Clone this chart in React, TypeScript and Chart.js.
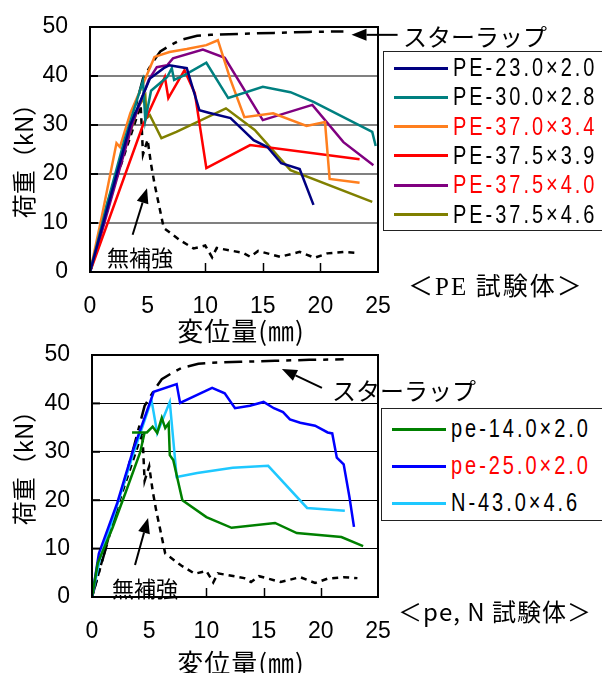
import React, { useEffect, useRef } from "react";
import { Chart, registerables } from "chart.js";
Chart.register(...registerables);

// ---------- data ----------
const xTicks = [0, 5, 10, 15, 20, 25];
const yTicks = [0, 10, 20, 30, 40, 50];

const stirrupX = [0, 1.2, 2.5, 3.6, 4.6, 5.5, 6.1, 7.0, 7.8, 9.3, 10.5, 13, 16, 19, 22];
const stirrupY = [0, 10, 21, 30.5, 39.5, 43, 45, 46.3, 47.3, 48.2, 48.4, 48.6, 48.8, 49, 49.1];

const plainX = [0, 2.0, 4.4, 4.6, 5.0, 5.3, 5.6, 6.4, 7.8, 9.0, 10.0, 10.6, 11.0, 13.3, 13.9, 14.6, 16.5, 18.2, 19.5, 20.6, 22.0, 23.2];
const plainY = [0, 17, 34, 24, 27, 22, 18, 9, 6.5, 4.8, 5.4, 3.0, 4.9, 3.9, 3.1, 4.3, 3.1, 4.1, 2.9, 3.8, 4.1, 3.9];

const pe23X = [0, 1.5, 3.5, 5.2, 6.4, 6.9, 8.4, 9.5, 10.3, 12.2, 13.0, 14.2, 15.4, 16.6, 18.2, 19.4];
const pe23Y = [0, 13, 30, 39.5, 41.6, 42.2, 41.6, 33, 32.5, 31.4, 29.6, 26.9, 25.5, 22.2, 21, 13.7];

const pe30X = [0, 1.5, 3.0, 4.6, 4.8, 5.3, 6.7, 7.1, 7.3, 8.2, 10.1, 12.0, 15.0, 17.4, 19.4, 24.5, 24.8];
const pe30Y = [0, 14, 27, 39, 31, 37, 39.8, 41.6, 39.2, 40.2, 42.7, 35.5, 37.8, 36.7, 34.7, 28.6, 25.7];

const pe370X = [0, 1.0, 2.3, 2.6, 3.5, 4.9, 5.6, 6.9, 8.4, 10.1, 11.1, 12.2, 13.4, 15.9, 18.8, 20.4, 20.8, 23.4];
const pe370Y = [0, 11, 26.3, 25.5, 32.4, 40, 43.9, 44.9, 45.5, 46.3, 47.3, 39.2, 31.6, 32.4, 29.8, 30.6, 19, 18.2];

const pe39X = [0, 4.6, 6.5, 6.8, 8.2, 9.1, 10.1, 13.9, 23.4];
const pe39Y = [0, 30, 39.8, 35.5, 41.2, 36.5, 21.2, 25.9, 23];

const pe40X = [0, 1.0, 3.7, 5.1, 5.8, 6.7, 7.2, 9.8, 11.7, 15.0, 19.3, 22.0, 24.6];
const pe40Y = [0, 8, 30.4, 39.2, 41.8, 42.2, 43.6, 45.4, 43.7, 31, 34.1, 26.5, 21.8];

const pe46X = [0, 1.5, 4.2, 4.8, 4.9, 5.2, 6.2, 7.5, 11.8, 14.3, 17.4, 24.5];
const pe46Y = [0, 14, 33.7, 36, 31.4, 32, 27.3, 28.6, 33.4, 29, 20.8, 14.3];

const pe14X = [0, 0.5, 1.8, 3.0, 4.2, 4.6, 3.5, 4.8, 5.3, 5.7, 6.1, 6.4, 6.7, 6.8, 7.1, 7.9, 10.0, 12.2, 16.0, 17.9, 21.8, 23.7];
const pe14Y = [0, 7, 14.3, 22, 29.8, 34, 34, 34, 35.2, 33.9, 37, 34.9, 35.9, 29.3, 28.3, 20, 16.5, 14.3, 15.3, 13.2, 12.4, 10.5];

const pe25X = [0, 0.6, 2.2, 3.6, 5.4, 7.4, 7.7, 10.5, 11.6, 12.5, 13.8, 15.0, 15.9, 16.7, 17.3, 18.2, 19.5, 20.6, 21.0, 21.4, 22.0, 22.5, 22.9];
const pe25Y = [0, 9, 19.4, 30.4, 42.4, 44, 40.1, 43.2, 42.1, 39, 39.5, 40.3, 39, 38.2, 36.7, 36, 35.4, 34, 33.8, 28.8, 27.4, 20.7, 14.5];

const n43X = [0, 0.7, 2.2, 3.6, 5.2, 5.7, 6.8, 7.4, 9.2, 12.3, 15.4, 18.8, 22.1];
const n43Y = [0, 8, 19, 29.5, 40.7, 33.9, 40.3, 24.8, 25.6, 26.7, 27.1, 18.4, 17.8];

const topLabels = ["PE-23.0×2.0", "PE-30.0×2.8", "PE-37.0×3.4", "PE-37.5×3.9", "PE-37.5×4.0", "PE-37.5×4.6"];
const topColors = ["#000080", "#008080", "#ff7f1e", "#ff0000", "#800080", "#808000"];
const topTextRed = [false, false, true, false, true, false];
const topXs = [pe23X, pe30X, pe370X, pe39X, pe40X, pe46X];
const topYs = [pe23Y, pe30Y, pe370Y, pe39Y, pe40Y, pe46Y];

const botLabels = ["pe-14.0×2.0", "pe-25.0×2.0", "N-43.0×4.6"];
const botColors = ["#008000", "#0000ff", "#1ec8ff"];
const botTextRed = [false, true, false];
const botXs = [pe14X, pe25X, n43X];
const botYs = [pe14Y, pe25Y, n43Y];

// annotation arrows in data units: [x1, y1, x2(tip), y2(tip)]
const topArrows = [[26.7, 48.4, 22.7, 48.4], [3.7, 7.6, 4.95, 17.1]];
const botArrows = [[20.1, 43.2, 16.6, 47.1], [3.76, 6.6, 4.9, 16.3]];

const pts = (xs: number[], ys: number[]) => xs.map((x, i) => ({ x, y: ys[i] }));

const JP = '"Noto Sans CJK JP", sans-serif';
const NUM = '"Liberation Sans", Arial, sans-serif';

type Cfg = {
  width: number; height: number; left: number; right: number; top: number; bottom: number;
  gridColor: string; gridWidth: number; xs: number[][]; ys: number[][]; colors: string[]; arrows: number[][];
};

function makePlugin(arrows: number[][]) {
  return {
    id: "frameTicks",
    afterDraw(chart: any) {
      const { ctx, chartArea: a, scales } = chart;
      const sx = scales.x, sy = scales.y;
      ctx.save();
      ctx.strokeStyle = "#000";
      ctx.lineWidth = 1.5;
      for (const v of xTicks) {
        if (v <= sx.min || v >= sx.max) continue;
        const px = Math.round(sx.getPixelForValue(v)) + 0.5;
        ctx.beginPath(); ctx.moveTo(px, a.bottom); ctx.lineTo(px, a.bottom - 9); ctx.stroke();
      }
      ctx.lineWidth = 2;
      for (const v of yTicks) {
        if (v <= sy.min || v >= sy.max) continue;
        const py = sy.getPixelForValue(v);
        ctx.beginPath(); ctx.moveTo(a.left, py); ctx.lineTo(a.left + 8, py); ctx.stroke();
      }
      ctx.lineWidth = 2;
      ctx.strokeRect(a.left, a.top, a.right - a.left, a.bottom - a.top);
      for (const [x1, y1, x2, y2] of arrows) {
        const p1x = sx.getPixelForValue(x1), p1y = sy.getPixelForValue(y1);
        const p2x = sx.getPixelForValue(x2), p2y = sy.getPixelForValue(y2);
        const ang = Math.atan2(p2y - p1y, p2x - p1x);
        const hl = 15, hw = 6;
        const bx = p2x - hl * Math.cos(ang), by = p2y - hl * Math.sin(ang);
        ctx.beginPath(); ctx.moveTo(p1x, p1y); ctx.lineTo(bx, by); ctx.stroke();
        ctx.beginPath();
        ctx.moveTo(p2x, p2y);
        ctx.lineTo(bx + hw * Math.sin(ang), by - hw * Math.cos(ang));
        ctx.lineTo(bx - hw * Math.sin(ang), by + hw * Math.cos(ang));
        ctx.closePath();
        ctx.fillStyle = "#000";
        ctx.fill();
      }
      ctx.restore();
    },
  };
}

function Plot({ cfg }: { cfg: Cfg }) {
  const ref = useRef<HTMLCanvasElement>(null);
  useEffect(() => {
    if (!ref.current) return;
    const datasets: any[] = [];
    cfg.xs.forEach((xs, i) => {
      datasets.push({ data: pts(xs, cfg.ys[i]), borderColor: cfg.colors[i], borderWidth: 2.5, showLine: true, pointRadius: 0, tension: 0 });
    });
    datasets.push({ data: pts(plainX, plainY), borderColor: "#000", borderWidth: 2.5, borderDash: [6, 5], showLine: true, pointRadius: 0 });
    datasets.push({ data: pts(stirrupX, stirrupY), borderColor: "#000", borderWidth: 2.5, borderDash: [18, 7, 5, 7], showLine: true, pointRadius: 0 });
    const chart: any = new Chart(ref.current, {
      type: "scatter",
      data: { datasets },
      options: {
        responsive: false,
        animation: false,
        devicePixelRatio: 1,
        layout: { autoPadding: false, padding: { left: 0, right: cfg.width - cfg.right, top: cfg.top, bottom: 0 } },
        plugins: { legend: { display: false }, tooltip: { enabled: false } },
        scales: {
          x: {
            type: "linear", min: 0, max: 25,
            afterFit: (s: any) => { s.height = cfg.height - cfg.bottom; s.paddingLeft = 0; s.paddingRight = 0; },
            afterBuildTicks: (s: any) => { s.ticks = xTicks.map((v) => ({ value: v })); },
            grid: { display: false, drawTicks: false },
            border: { display: false },
            ticks: { padding: 21, font: { family: NUM, size: 23 }, color: "#000", maxRotation: 0 },
          },
          y: {
            type: "linear", min: 0, max: 50,
            afterFit: (s: any) => { s.width = cfg.left; s.paddingTop = 0; s.paddingBottom = 0; },
            afterBuildTicks: (s: any) => { s.ticks = yTicks.map((v) => ({ value: v })); },
            grid: { color: cfg.gridColor, lineWidth: cfg.gridWidth, drawTicks: false },
            border: { display: false },
            ticks: { padding: 22, font: { family: NUM, size: 23 }, color: "#000" },
          },
        },
      },
      plugins: [makePlugin(cfg.arrows)],
    } as any);
    return () => chart.destroy();
  }, []);
  return <canvas ref={ref} width={cfg.width} height={cfg.height} style={{ display: "block" }} />;
}

const abs = (s: any): any => ({ position: "absolute", whiteSpace: "nowrap", lineHeight: 1, ...s });

function Legend({ left, top, width, height, rowTop, rowGap, labels, colors, red }: any) {
  return (
    <div style={abs({ left, top, width, height, border: "1px solid #222", background: "#fff", boxSizing: "border-box" })}>
      {labels.map((l: string, i: number) => (
        <div key={l} style={abs({ left: 0, top: rowTop + i * rowGap, height: 0 })}>
          <div style={abs({ left: 10, top: -1.5, width: 54, height: 3, background: colors[i] })} />
          <div style={abs({ left: 69, top: -13, fontFamily: NUM, fontSize: 25, letterSpacing: 3.7, transform: "scaleX(0.8)", transformOrigin: "0 0", color: red[i] ? "#ff0000" : "#000" })}>{l}</div>
        </div>
      ))}
    </div>
  );
}

function YTitle({ cx, cy }: { cx: number; cy: number }) {
  return (
    <div style={abs({ left: cx, top: cy, transform: "translate(-50%,-50%) rotate(-90deg)", fontFamily: JP, fontSize: 24 })}>荷重（kN）</div>
  );
}
function XTitle({ cx, top }: { cx: number; top: number }) {
  return (
    <div style={abs({ left: cx, top, transform: "translateX(-50%)", fontFamily: JP, fontSize: 26, letterSpacing: 1 })}>変位量(㎜)</div>
  );
}

export default function App() {
  const topCfg: Cfg = {
    width: 602, height: 340, left: 90, right: 378, top: 27, bottom: 272,
    gridColor: "#808080", gridWidth: 2, xs: topXs, ys: topYs, colors: topColors, arrows: topArrows,
  };
  const botCfg: Cfg = {
    width: 602, height: 333, left: 92, right: 378, top: 15, bottom: 257,
    gridColor: "#000", gridWidth: 1, xs: botXs, ys: botYs, colors: botColors, arrows: botArrows,
  };
  return (
    <div style={{ position: "absolute", left: 0, top: 0, width: 602, height: 673, overflow: "hidden", background: "#fff" }}>
      <div style={abs({ left: 0, top: 0 })}><Plot cfg={topCfg} /></div>
      <div style={abs({ left: 0, top: 340 })}><Plot cfg={botCfg} /></div>

      <YTitle cx={23} cy={155} />
      <XTitle cx={241} top={317} />
      <div style={abs({ left: 403, top: 24, fontFamily: JP, fontSize: 24 })}>スターラップ</div>
      <div style={abs({ left: 107, top: 245, fontFamily: JP, fontSize: 22 })}>無補強</div>
      <div style={abs({ left: 408, top: 272, fontFamily: JP, fontSize: 25, letterSpacing: 2 })}>
        ＜<span style={{ fontFamily: '"Liberation Serif", serif' }}>PE</span> 試験体＞
      </div>
      <Legend left={383} top={51} width={230} height={180} rowTop={16} rowGap={29.3} labels={topLabels} colors={topColors} red={topTextRed} />

      <YTitle cx={23} cy={462} />
      <XTitle cx={241} top={649} />
      <div style={abs({ left: 332, top: 378, fontFamily: JP, fontSize: 24 })}>スターラップ</div>
      <div style={abs({ left: 112, top: 576, fontFamily: JP, fontSize: 22 })}>無補強</div>
      <div style={abs({ left: 398, top: 599, fontFamily: JP, fontSize: 24, letterSpacing: 1 })}>＜pe, N 試験体＞</div>
      <Legend left={381} top={408} width={230} height={113} rowTop={20} rowGap={37} labels={botLabels} colors={botColors} red={botTextRed} />
    </div>
  );
}
